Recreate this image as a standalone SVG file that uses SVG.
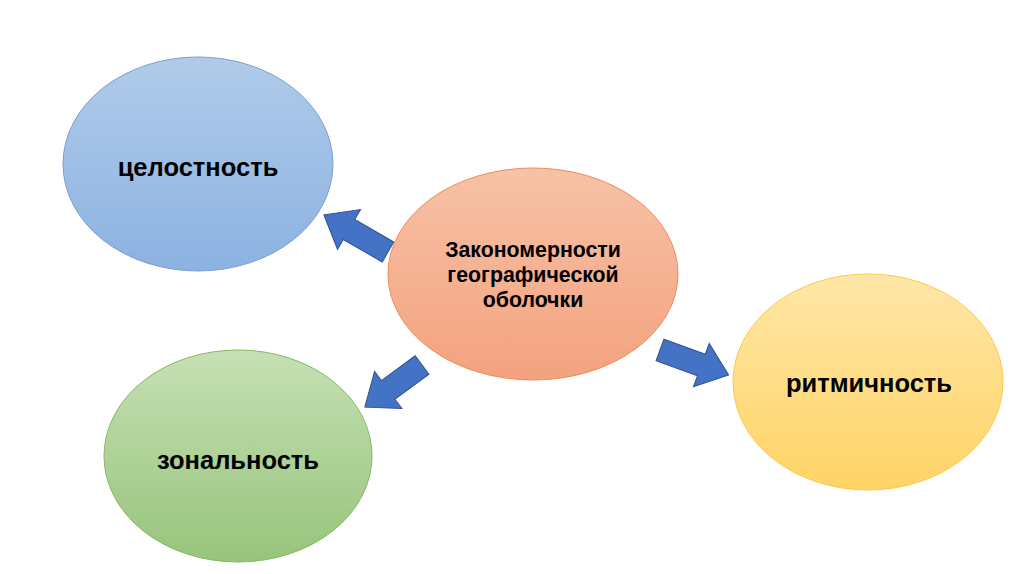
<svg xmlns="http://www.w3.org/2000/svg" width="1024" height="574" viewBox="0 0 1024 574">
<defs>
<linearGradient id="gBlue" x1="0" y1="0" x2="0" y2="1"><stop offset="0" stop-color="#b0cbea"/><stop offset="1" stop-color="#8cb2e1"/></linearGradient>
<linearGradient id="gOrange" x1="0" y1="0" x2="0" y2="1"><stop offset="0" stop-color="#f7c2a6"/><stop offset="1" stop-color="#f4a27f"/></linearGradient>
<linearGradient id="gYellow" x1="0" y1="0" x2="0" y2="1"><stop offset="0" stop-color="#ffe7a8"/><stop offset="1" stop-color="#ffd466"/></linearGradient>
<linearGradient id="gGreen" x1="0" y1="0" x2="0" y2="1"><stop offset="0" stop-color="#c6e0b4"/><stop offset="1" stop-color="#97c47b"/></linearGradient>
</defs>
<style>
.lbl{font-family:"Liberation Sans",Arial,sans-serif;font-weight:bold;fill:#000;text-anchor:middle}
.arrow{fill:#4472c4;stroke:#2f528f;stroke-width:1}
</style>
<rect width="1024" height="574" fill="#ffffff"/>
<g id="node-celostnost">
<ellipse cx="198" cy="164" rx="135" ry="107" fill="url(#gBlue)" stroke="#7a9fd0" stroke-width="1"/>
<text class="lbl" x="198" y="176" font-size="25.5">целостность</text>
</g>
<g id="node-center">
<ellipse cx="533" cy="274" rx="145" ry="106" fill="url(#gOrange)" stroke="#ee8c5a" stroke-width="1"/>
<text class="lbl" font-size="21.3"><tspan x="533" y="257">Закономерности</tspan><tspan x="533" y="282">географической</tspan><tspan x="533" y="307">оболочки</tspan></text>
</g>
<g id="node-ritmichnost">
<ellipse cx="868" cy="382" rx="135" ry="108" fill="url(#gYellow)" stroke="#ffc84a" stroke-width="1"/>
<text class="lbl" x="869" y="392" font-size="25.5">ритмичность</text>
</g>
<g id="node-zonalnost">
<ellipse cx="238" cy="456" rx="134" ry="106" fill="url(#gGreen)" stroke="#86b866" stroke-width="1"/>
<text class="lbl" x="238" y="469" font-size="25.5">зональность</text>
</g>
<g id="connectors">
<polygon class="arrow" points="0,-11.5 45,-11.5 45,-23 74,0 45,23 45,11.5 0,11.5" transform="translate(388,252) rotate(210)"/>
<polygon class="arrow" points="0,-11.5 42,-11.5 42,-23 71,0 42,23 42,11.5 0,11.5" transform="translate(422,365) rotate(143.6)"/>
<polygon class="arrow" points="0,-11.5 44,-11.5 44,-23 73,0 44,23 44,11.5 0,11.5" transform="translate(660,350) rotate(20)"/>
</g>
</svg>
